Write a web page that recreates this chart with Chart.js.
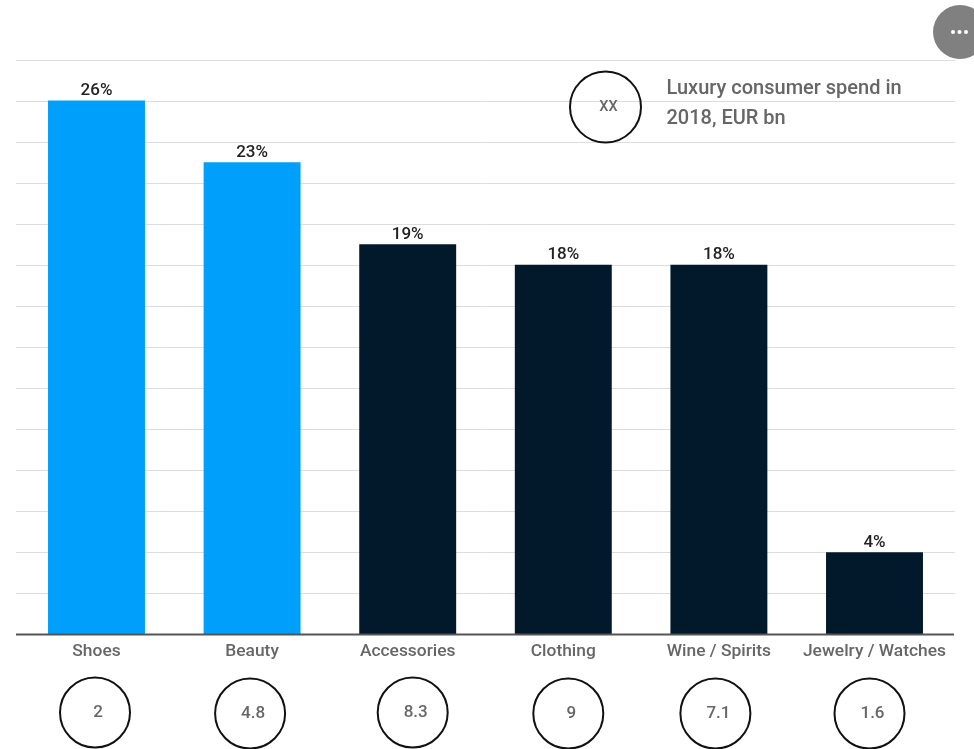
<!DOCTYPE html>
<html>
<head>
<meta charset="utf-8">
<title>Luxury consumer spend</title>
<script src="https://cdn.jsdelivr.net/npm/chart.js@4"></script>
<style>
  html, body { margin: 0; padding: 0; background: #fff; overflow: hidden; }
  canvas { display: block; }
</style>
</head>
<body>
<canvas id="myChart" width="974" height="749"></canvas>
<script>
var categories = ["Shoes", "Beauty", "Accessories", "Clothing", "Wine / Spirits", "Jewelry / Watches"];
var sharePct = [26, 23, 19, 18, 18, 4];
var spendEurBn = ["2", "4.8", "8.3", "9", "7.1", "1.6"];
var highlighted = ["Shoes", "Beauty"];
var yTicks = [0, 2, 4, 6, 8, 10, 12, 14, 16, 18, 20, 22, 24, 26, 28];
var legendCircleText = "XX";
var legendLines = ["Luxury consumer spend in", "2018, EUR bn"];

var BLUE = "#009ffb";
var NAVY = "#02192b";
var GREY_TEXT = "#666666";

// the spend circles sit a little off their bar centres
var circleShift = [-1.5, -2, 5, 5, -3.5, -5];
var circleDrop = [0, 1, 0, 1, 1, 1];

function ring(ctx, x, y, r, text, fontSize) {
  ctx.beginPath();
  ctx.arc(x, y, r, 0, Math.PI * 2);
  ctx.lineWidth = 2;
  ctx.strokeStyle = "#111";
  ctx.stroke();
  ctx.fillStyle = GREY_TEXT;
  ctx.font = "500 " + fontSize + "px Roboto";
  ctx.textAlign = "center";
  ctx.textBaseline = "middle";
  // the text is set slightly right of the ring's centre
  ctx.fillText(text, x + 3, y + 0.5);
}

// grid rules run past the plot area on both sides, so they are drawn here
var rules = {
  id: "rules",
  beforeDatasetsDraw: function(chart) {
    var ctx = chart.ctx;
    var y = chart.scales.y;
    ctx.save();
    ctx.lineWidth = 1;
    ctx.strokeStyle = "#dddddd";
    y.ticks.forEach(function(t) {
      if (t.value === 0) return;
      var py = Math.round(y.getPixelForValue(t.value)) + 0.5;
      ctx.beginPath();
      ctx.moveTo(16, py);
      ctx.lineTo(955, py);
      ctx.stroke();
    });
    ctx.restore();
  },
  afterDatasetsDraw: function(chart) {
    var ctx = chart.ctx;
    var y = chart.scales.y;
    var x = chart.scales.x;
    var meta = chart.getDatasetMeta(0);
    ctx.save();

    // baseline
    ctx.beginPath();
    ctx.moveTo(16, y.getPixelForValue(0));
    ctx.lineTo(954, y.getPixelForValue(0));
    ctx.lineWidth = 2;
    ctx.strokeStyle = "#555555";
    ctx.stroke();

    // share labels above the bars
    ctx.fillStyle = "#222222";
    ctx.font = "500 17px Roboto";
    ctx.textAlign = "center";
    ctx.textBaseline = "alphabetic";
    meta.data.forEach(function(bar, i) {
      ctx.fillText(sharePct[i] + "%", bar.x, bar.y - 5.5);
    });

    // spend circles under the axis labels
    spendEurBn.forEach(function(v, i) {
      ring(ctx, x.getPixelForValue(i) + circleShift[i], 712.5 + circleDrop[i], 35, v, 17);
    });

    // legend
    ring(ctx, 605.5, 107, 35.5, legendCircleText, 14.5);
    ctx.fillStyle = GREY_TEXT;
    ctx.font = "500 20px Roboto";
    ctx.textAlign = "left";
    ctx.textBaseline = "alphabetic";
    ctx.fillText(legendLines[0], 666.5, 94);
    ctx.fillText(legendLines[1], 666.5, 124);

    // menu button in the corner
    ctx.beginPath();
    ctx.arc(960, 32, 27, 0, Math.PI * 2);
    ctx.fillStyle = "#808080";
    ctx.fill();
    ctx.fillStyle = "#ffffff";
    [953, 959.5, 966].forEach(function(dx) {
      ctx.beginPath();
      ctx.arc(dx, 32, 2, 0, Math.PI * 2);
      ctx.fill();
    });
    ctx.restore();
  }
};

var ctx = document.getElementById("myChart").getContext("2d");
var myChart = new Chart(ctx, {
  type: "bar",
  data: {
    labels: categories,
    datasets: [{
      data: sharePct,
      backgroundColor: function(c) {
        return highlighted.indexOf(categories[c.dataIndex]) > -1 ? BLUE : NAVY;
      },
      barPercentage: 0.623,
      categoryPercentage: 1
    }]
  },
  options: {
    responsive: false,
    animation: false,
    layout: { padding: { left: 18.7, right: 21.7, top: 59.5, bottom: 0 } },
    plugins: { legend: { display: false }, tooltip: { enabled: false } },
    scales: {
      x: {
        grid: { display: false, drawTicks: false },
        border: { display: false },
        ticks: {
          autoSkip: false,
          maxRotation: 0,
          padding: 7,
          color: GREY_TEXT,
          font: { family: "Roboto", size: 17.4, weight: "500" }
        },
        afterFit: function(scale) { scale.height = 114.5; }
      },
      y: {
        min: 0,
        max: 28,
        afterBuildTicks: function(scale) {
          scale.ticks = yTicks.map(function(v) { return { value: v }; });
        },
        grid: { display: false, drawTicks: false },
        border: { display: false },
        ticks: { display: false }
      }
    }
  },
  plugins: [rules]
});
</script>
</body>
</html>
